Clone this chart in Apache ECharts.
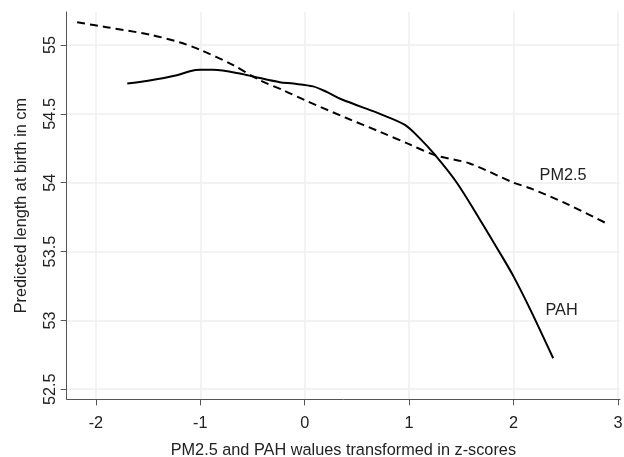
<!DOCTYPE html>
<html>
<head>
<meta charset="utf-8">
<script src="https://cdn.jsdelivr.net/npm/echarts@6/dist/echarts.min.js"></script>
<style>
html,body{margin:0;padding:0;background:#fff;}
#chart{width:624px;height:457px;}
</style>
</head>
<body>
<div id="chart"></div>
<script>
// z-score positions and predicted length (cm)
const pm25X = [-2.18, -1.9, -1.48, -1.2, -1.0, -0.7, -0.43, -0.2, 0.0, 0.4, 0.72, 1.0, 1.25, 1.58, 2.0, 2.16, 2.5, 2.89];
const pm25Y = [55.165, 55.13, 55.075, 55.02, 54.965, 54.86, 54.745, 54.67, 54.60, 54.47, 54.37, 54.28, 54.20, 54.14, 54.0, 53.96, 53.85, 53.705];
const pahX = [-1.70, -1.5, -1.225, -1.1, -1.0, -0.875, -0.6, -0.43, -0.24, -0.11, 0.08, 0.21, 0.34, 0.53, 0.72, 0.96, 1.105, 1.25, 1.457, 1.68, 1.87, 2.0, 2.16, 2.38];
const pahY = [54.72, 54.74, 54.78, 54.81, 54.82, 54.82, 54.79, 54.76, 54.73, 54.72, 54.70, 54.66, 54.61, 54.555, 54.50, 54.42, 54.32, 54.20, 54.0, 53.73, 53.49, 53.32, 53.08, 52.725];
const xTicks = [-2, -1, 0, 1, 2, 3];
const yTicks = [52.5, 53, 53.5, 54, 54.5, 55];
const seriesNames = ['PM2.5', 'PAH'];
const labelPos = [[2.475, 54.05], [2.46, 53.075]];
const xTitle = 'PM2.5 and PAH walues transformed in z-scores';
const yTitle = 'Predicted length at birth in cm';

const FONT = '"Liberation Sans", Arial, sans-serif';
const TXT = '#222';
const zip = (a, b) => a.map((v, i) => [v, b[i]]);

const chart = echarts.init(document.getElementById('chart'), null, {renderer: 'canvas'});
chart.setOption({
  animation: false,
  backgroundColor: '#fff',
  grid: {left: 66.7, right: 4, top: 12, bottom: 57.7, containLabel: false, outerBoundsMode: 'none'},
  xAxis: {
    type: 'value', min: -2.28, max: 3.02,
    name: xTitle, nameLocation: 'middle', nameGap: 43,
    nameTextStyle: {fontFamily: FONT, fontSize: 16.3, color: TXT},
    axisLine: {show: true, onZero: false, lineStyle: {color: '#555', width: 1}},
    axisTick: {show: true, length: 6, customValues: xTicks, lineStyle: {color: '#555'}},
    axisLabel: {customValues: xTicks, margin: 16, fontFamily: FONT, fontSize: 16.3, color: TXT},
    splitLine: {show: true, lineStyle: {color: '#efefef', width: 1.5}}
  },
  yAxis: {
    type: 'value', min: 52.427, max: 55.24,
    name: yTitle, nameLocation: 'middle', nameGap: 37,
    nameTextStyle: {fontFamily: FONT, fontSize: 16.3, color: TXT},
    axisLine: {show: true, onZero: false, lineStyle: {color: '#555', width: 1}},
    axisTick: {show: true, length: 6, customValues: yTicks, lineStyle: {color: '#555'}},
    axisLabel: {customValues: yTicks, rotate: 90, margin: 8, fontFamily: FONT, fontSize: 16.3, color: TXT},
    splitLine: {show: true, lineStyle: {color: '#efefef', width: 1.5}}
  },
  series: [
    {
      name: seriesNames[0], type: 'line', data: zip(pm25X, pm25Y), smooth: 0.3,
      showSymbol: false, symbol: 'none',
      lineStyle: {color: '#000', width: 2, type: [8, 5]},
      markPoint: {
        symbol: 'circle', symbolSize: 0,
        label: {show: true, formatter: seriesNames[0], position: 'inside', fontFamily: FONT, fontSize: 16.3, color: TXT},
        data: [{coord: labelPos[0]}]
      }
    },
    {
      name: seriesNames[1], type: 'line', data: zip(pahX, pahY), smooth: 0.3,
      showSymbol: false, symbol: 'none',
      lineStyle: {color: '#000', width: 2},
      markPoint: {
        symbol: 'circle', symbolSize: 0,
        label: {show: true, formatter: seriesNames[1], position: 'inside', fontFamily: FONT, fontSize: 16.3, color: TXT},
        data: [{coord: labelPos[1]}]
      }
    }
  ]
});
</script>
</body>
</html>
